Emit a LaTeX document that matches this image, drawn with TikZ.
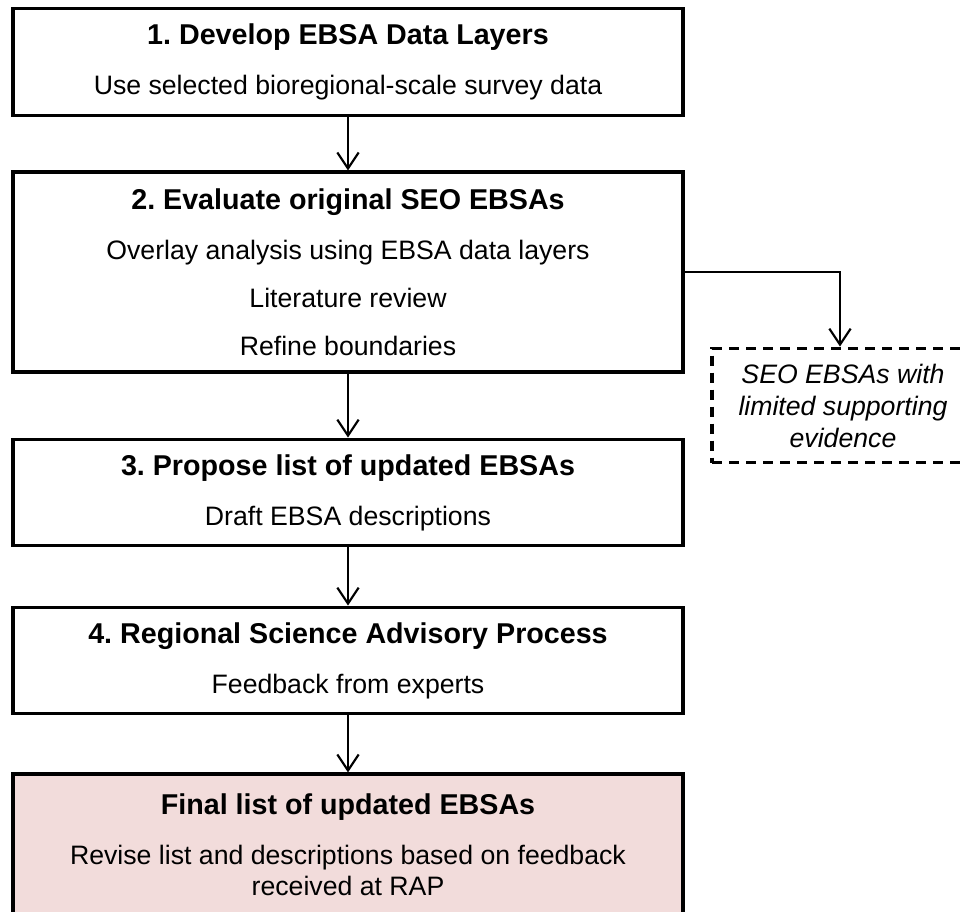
\documentclass[tikz,border=0pt]{standalone}
\usepackage{fontspec}
\setmainfont{Liberation Sans}
\usetikzlibrary{arrows.meta}
\usepackage{xcolor}
\definecolor{rosa}{RGB}{242,220,219}
\newcommand{\titel}[1]{{\bfseries\fontsize{21.5}{26}\selectfont #1}}
\frenchspacing

\begin{document}
\begin{tikzpicture}[x=0.75pt, y=-0.75pt,
kasten/.style={draw, line width=2.4pt, minimum width=502.5pt, align=center, inner sep=0pt, font=\fontsize{20}{24}\selectfont},
pfeil/.style={line width=1.6pt, -{Straight Barb[length=12pt, width=16pt]}}]

\useasboundingbox (0,0) rectangle (964,911);
\clip (0,0) rectangle (964,911);

% kaesten links
\node[kasten, minimum height=80pt] (entwickeln) at (348,62) {\titel{1. Develop EBSA Data Layers}\\[13.5pt] Use selected bioregional-scale survey data};
\node[kasten, minimum height=150pt] (bewerten) at (348,272) {\titel{2. Evaluate original SEO EBSAs}\\[13.5pt] Overlay analysis using EBSA data layers\\[12pt] Literature review\\[12pt] Refine boundaries};
\node[kasten, minimum height=80pt] (vorschlag) at (348,492.5) {\titel{3. Propose list of updated EBSAs}\\[13.5pt] Draft EBSA descriptions};
\node[kasten, minimum height=80pt] (beratung) at (348,660.5) {\titel{4. Regional Science Advisory Process}\\[13.5pt] Feedback from experts};
\node[kasten, fill=rosa, minimum height=106.5pt] (endliste) at (348,845) {\titel{Final list of updated EBSAs}\\[13.5pt] Revise list and descriptions based on feedback\\[-1pt] received at RAP};

% kasten rechts, gestrichelt
\node[draw, line width=2.4pt, dash pattern=on 7.5pt off 5.25pt, minimum width=196.5pt, minimum height=86pt, align=center, inner sep=0pt, font=\itshape\fontsize{20}{24}\selectfont] (schwach) at (843,405.5) {SEO EBSAs with\\limited supporting\\evidence};

% pfeile
\draw[pfeil] (entwickeln) -- (bewerten);
\draw[pfeil] (bewerten) -- (vorschlag);
\draw[pfeil] (vorschlag) -- (beratung);
\draw[pfeil] (beratung) -- (endliste);
\draw[pfeil] (bewerten.east) -| ([xshift=-2.25pt]schwach.north); %abzweig rechts

\end{tikzpicture}
\end{document}
